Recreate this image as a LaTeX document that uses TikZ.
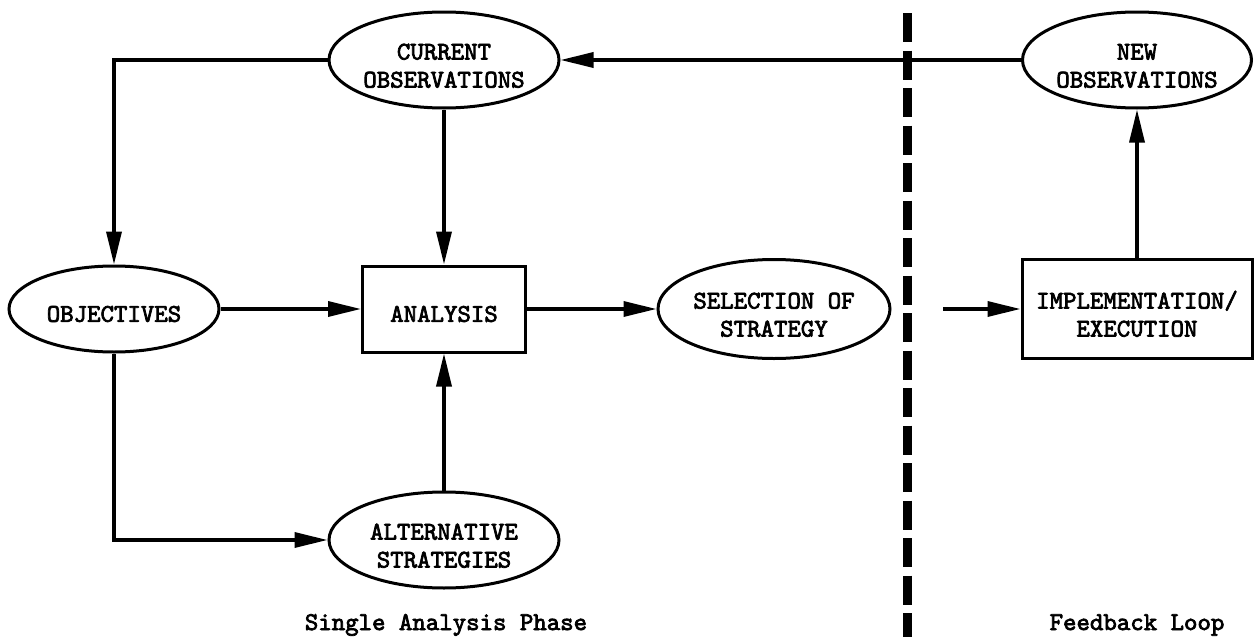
\documentclass[tikz,border=0pt]{standalone}
\usepackage{fontspec}
\setmainfont{lmmono10-regular.otf}[FakeBold=2.8]
\usetikzlibrary{arrows.meta,shapes.geometric}
% lower node text a little inside its frame, keeping the frame's size
\newcommand\droptext[1]{\raisebox{-5pt}[\height][\depth]{#1}}
\newcommand\twolines[2]{\raisebox{-8pt}[\height][\depth]{\begin{tabular}{@{}c@{}}#1\\#2\end{tabular}}}

\begin{document}
\begin{tikzpicture}[x=1pt,y=-1pt,
  every node/.style={font=\fontsize{25.6}{28}\selectfont, inner sep=0pt},
  oval/.style={draw, ellipse, line width=3pt},
  boxed/.style={draw, rectangle, line width=3pt},
  flow/.style={line width=3.4pt, -{Triangle[length=33pt,width=15pt]}},
  divider/.style={line width=9pt, dash pattern=on 29pt off 8.5pt}]
\useasboundingbox (0,0) rectangle (1254,637);

% nodes of the analysis phase
\node[oval, minimum width=230pt, minimum height=96pt] (cur) at (444,60) {\twolines{CURRENT}{OBSERVATIONS}};
\node[oval, minimum width=210pt, minimum height=86pt] (obj) at (114,309) {\droptext{OBJECTIVES}};
\node[boxed, minimum width=163pt, minimum height=86pt] (ana) at (444,309) {\droptext{ANALYSIS}};
\node[oval, minimum width=232pt, minimum height=99pt] (sel) at (774,309) {\twolines{SELECTION OF}{STRATEGY}};
\node[oval, minimum width=230pt, minimum height=96pt] (alt) at (444,540) {\twolines{ALTERNATIVE}{STRATEGIES}};

% nodes of the feedback loop
\node[oval, minimum width=229pt, minimum height=96pt] (newobs) at (1137,60) {\twolines{NEW}{OBSERVATIONS}};
\node[boxed, minimum width=230pt, minimum height=99pt] (impl) at (1137,309) {\twolines{IMPLEMENTATION/}{EXECUTION}};

% phase captions
\node[anchor=base] (cap1) at (446,630) {Single Analysis Phase};
\node[anchor=base] (cap2) at (1137,630) {Feedback Loop};

% dividing line between the two phases
\coordinate (divtop) at (907,13);
\coordinate (divbot) at (907,637);
\draw[divider] (divtop) -- (divbot);

% connectors
\draw[flow] (newobs.west) -- (cur.east);
\draw[flow] (cur.west) -| (obj.north);
\draw[flow] (cur.south) -- (ana.north);
\draw[flow] (obj.east) -- (ana.west);
\draw[flow] (obj.south) |- (alt.west);
\draw[flow] (alt.north) -- (ana.south);
\draw[flow] (ana.east) -- (sel.west);
\coordinate (feedin) at (943,309);
\draw[flow] (feedin) -- (impl.west);
\draw[flow] (impl.north) -- (newobs.south);
\end{tikzpicture}
\end{document}
